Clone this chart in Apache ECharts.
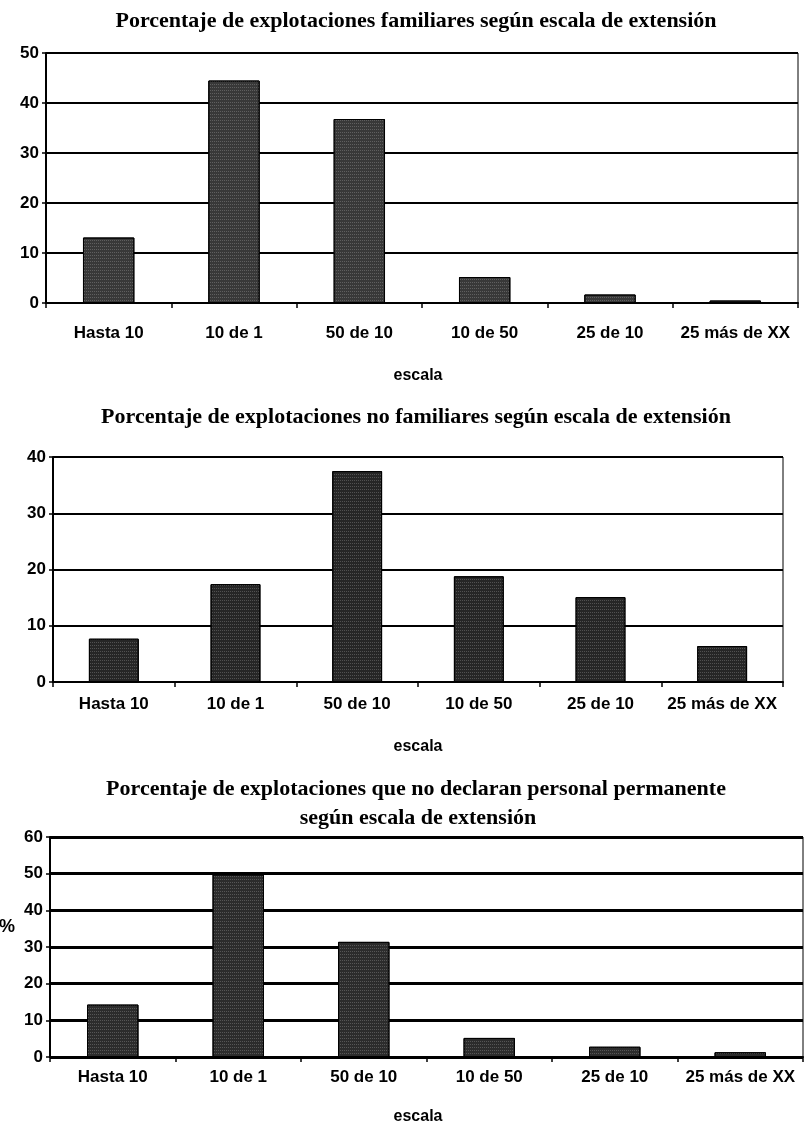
<!DOCTYPE html>
<html>
<head>
<meta charset="utf-8">
<script src="https://cdn.jsdelivr.net/npm/echarts@6/dist/echarts.min.js"></script>
<style>
html,body{margin:0;padding:0;background:#fff;}
#c{width:807px;height:1124px;}
</style>
</head>
<body>
<div id="c"></div>
<script>
const categories = ['Hasta 10', '10 de 1', '50 de 10', '10 de 50', '25 de 10', '25 más de XX'];
const familiares = [13.1, 44.5, 36.8, 5.2, 1.7, 0.5];
const noFamiliares = [7.7, 17.4, 37.5, 18.8, 15.1, 6.4];
const sinPersonal = [14.3, 49.8, 31.4, 5.2, 2.8, 1.3];
const titles = [
  'Porcentaje de explotaciones familiares según escala de extensión',
  'Porcentaje de explotaciones no familiares según escala de extensión',
  'Porcentaje de explotaciones que no declaran personal permanente',
  'según escala de extensión'
];
const xName = 'escala';
const yName = '%';
const yMax = [50, 40, 60];
const yInterval = 10;

const chart = echarts.init(document.getElementById('c'), null, {renderer: 'canvas'});
const sans = 'Liberation Sans';
const serif = 'Liberation Serif';

const grids = [
  {left: 46, right: 9, top: 53, height: 250},
  {left: 53, right: 24, top: 457, height: 225},
  {left: 50, right: 4, top: 837, height: 220}
];
const labelMargins = [22, 14, 12];
const ySplitW = [2, 2, 3];
const barColors = ['#383838', '#262626', '#2c2c2c'];
const dataSets = [familiares, noFamiliares, sinPersonal];

const xAxes = grids.map((g, i) => ({
  type: 'category', gridIndex: i, data: categories,
  boundaryGap: true,
  axisLine: {show: true, lineStyle: {color: '#000', width: 2}},
  axisTick: {show: true, length: 5, lineStyle: {color: '#000', width: 1.5}},
  axisLabel: {color: '#000', fontFamily: sans, fontWeight: 'bold', fontSize: 17, margin: labelMargins[i], interval: 0},
  splitLine: {show: false}
}));
const yAxes = grids.map((g, i) => ({
  type: 'value', gridIndex: i, min: 0, max: yMax[i], interval: yInterval,
  axisLine: {show: true, lineStyle: {color: '#000', width: 2}},
  axisTick: {show: true, length: 4, lineStyle: {color: '#000', width: 1.5}},
  axisLabel: {color: '#000', fontFamily: sans, fontWeight: 'bold', fontSize: 17, margin: 7},
  splitLine: {show: true, lineStyle: {color: '#000', width: ySplitW[i]}}
}));
const series = dataSets.map((d, i) => ({
  type: 'bar', xAxisIndex: i, yAxisIndex: i, data: d,
  barWidth: '41%',
  itemStyle: {
    color: barColors[i], borderColor: '#000', borderWidth: 1,
    decal: {symbol: 'rect', symbolSize: 1, color: 'rgba(255,255,255,0.2)', dashArrayX: [1, 1], dashArrayY: [1, 2], rotation: 0}
  },
  silent: true, animation: false
}));

const txt = (text, x, y, font, size, weight) => ({
  type: 'text', x: x, y: y,
  style: {text: text, fill: '#000', font: weight + ' ' + size + 'px "' + font + '"', textAlign: 'center', textVerticalAlign: 'middle'}
});

chart.setOption({
  animation: false,
  grid: grids.map(g => Object.assign({show: true, borderColor: '#000', borderWidth: 1, backgroundColor: 'transparent'}, g)),
  xAxis: xAxes,
  yAxis: yAxes,
  series: series,
  graphic: [
    txt(titles[0], 416, 21, serif, 22, 'bold'),
    txt(titles[1], 416, 417, serif, 22, 'bold'),
    txt(titles[2], 416, 789, serif, 22, 'bold'),
    txt(titles[3], 418, 818, serif, 22, 'bold'),
    txt(xName, 418, 376, sans, 16, 'bold'),
    txt(xName, 418, 747, sans, 16, 'bold'),
    txt(xName, 418, 1117, sans, 16, 'bold'),
    txt(yName, 7, 927, sans, 18, 'bold')
  ]
});
</script>
</body>
</html>
